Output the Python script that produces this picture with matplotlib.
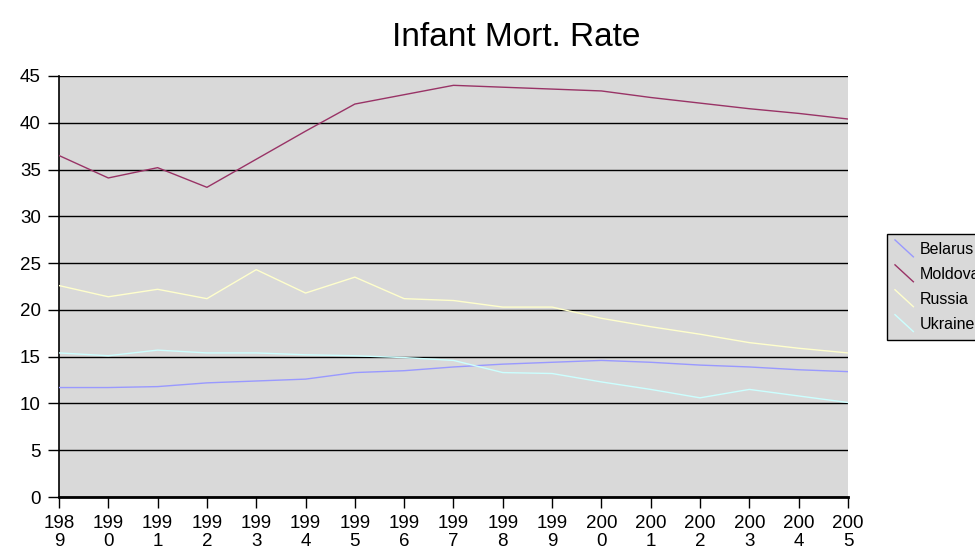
"""Infant mortality rate line chart (Excel-style)."""

import matplotlib
matplotlib.use("Agg")
import matplotlib.pyplot as plt
from matplotlib.legend_handler import HandlerBase
from matplotlib.lines import Line2D

years = list(range(1989, 2006))
year_labels = [f"{str(y)[:3]}\n{str(y)[3]}" for y in years]

belarus = [11.7, 11.7, 11.8, 12.2, 12.4, 12.6, 13.3, 13.5, 13.9, 14.2, 14.4, 14.6, 14.4, 14.1, 13.9, 13.6, 13.4]
moldova = [36.5, 34.1, 35.2, 33.1, 36.1, 39.1, 42.0, 43.0, 44.0, 43.8, 43.6, 43.4, 42.7, 42.1, 41.5, 41.0, 40.4]
russia = [22.6, 21.4, 22.2, 21.2, 24.3, 21.8, 23.5, 21.2, 21.0, 20.3, 20.3, 19.1, 18.2, 17.4, 16.5, 15.9, 15.4]
ukraine = [15.4, 15.1, 15.7, 15.4, 15.4, 15.2, 15.1, 14.9, 14.6, 13.3, 13.2, 12.3, 11.5, 10.6, 11.5, 10.8, 10.1]

series = [
    ("Belarus", belarus, "#9999FF"),
    ("Moldova", moldova, "#993366"),
    ("Russia", russia, "#FFFFCC"),
    ("Ukraine", ukraine, "#CCFFFF"),
]

plt.rcParams["font.family"] = ["Liberation Sans", "DejaVu Sans"]


class DiagonalHandler(HandlerBase):
    """Excel-like legend key: a short line running down to the right."""

    def create_artists(self, legend, orig_handle, xdescent, ydescent,
                       width, height, fontsize, trans):
        mid = -ydescent + height / 2
        half = 0.53 * fontsize
        line = Line2D([-xdescent, -xdescent + width], [mid + half, mid - half],
                      color=orig_handle.get_color(), lw=1)
        line.set_transform(trans)
        return [line]


fig = plt.figure(figsize=(9.75, 5.57), dpi=100)
ax = fig.add_axes([0.0605, 0.1077, 0.8092, 0.7559])
ax.set_facecolor("#D9D9D9")

handles = []
for name, vals, color in series:
    (ln,) = ax.plot(years, vals, color=color, lw=1, label=name, zorder=3)
    handles.append(ln)

ax.set_xlim(1989, 2005)
ax.set_ylim(0, 45)
ax.set_yticks(range(0, 46, 5))
ax.set_xticks(years)
ax.set_xticklabels(year_labels, linespacing=1.05)
ax.tick_params(axis="y", labelsize=13.5, direction="out", length=8, width=1, pad=5)
ax.tick_params(axis="x", labelsize=13.5, direction="out", length=8, width=1, pad=5)
ax.yaxis.grid(True, color="black", lw=1)
ax.set_axisbelow(True)
for side in ("top", "right"):
    ax.spines[side].set_visible(False)
ax.spines["left"].set_linewidth(1.2)
ax.spines["bottom"].set_linewidth(2)

fig.text(0.529, 1 - 46 / 557, "Infant Mort. Rate", ha="center", va="baseline", fontsize=24)

leg = fig.legend(handles, [s[0] for s in series], loc="upper left",
                 bbox_to_anchor=(887 / 975, 1 - 234 / 557),
                 handler_map={Line2D: DiagonalHandler()},
                 fontsize=11.5, frameon=True, fancybox=False, handlelength=1.15,
                 handletextpad=0.4, borderpad=0.5, labelspacing=0.62,
                 borderaxespad=0)
leg.get_frame().set_facecolor("#D9D9D9")
leg.get_frame().set_edgecolor("black")
leg.get_frame().set_linewidth(1)
leg.get_frame().set_alpha(1)

fig.savefig("out.png", dpi=100)
